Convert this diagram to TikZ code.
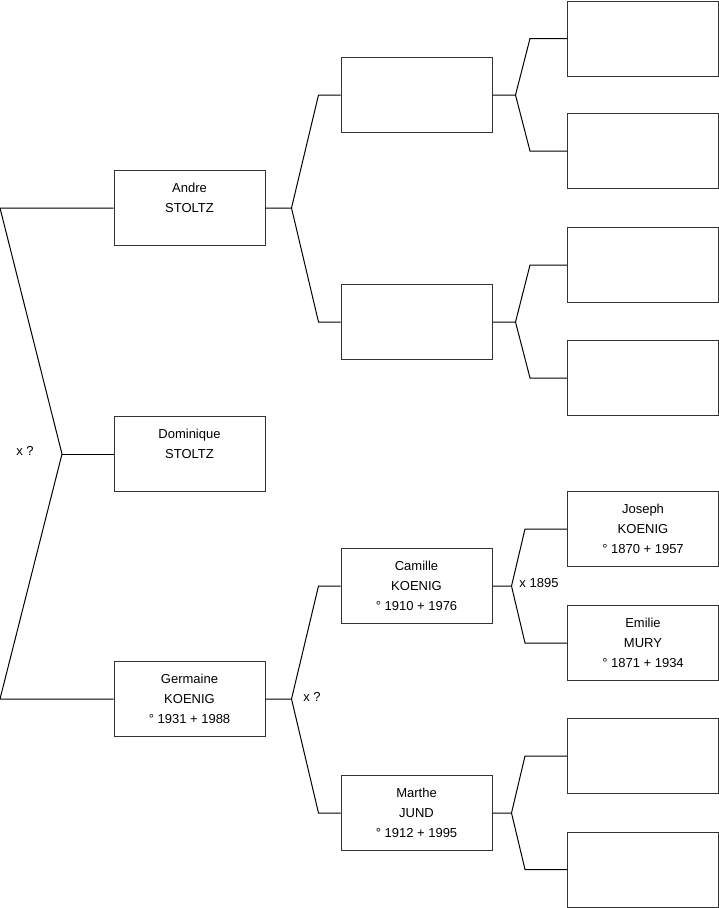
\documentclass[tikz,border=0pt]{standalone}
\usepackage{fontspec}
\setmainfont{Liberation Sans}
\usetikzlibrary{calc}

\newcommand{\who}[3]{#1\\#2\\\mbox{}#3}

\begin{document}
\begin{tikzpicture}[
    x=1pt, y=-1pt,
    font=\fontsize{13}{20}\selectfont,
    person/.style={rectangle, draw=black!80, line width=1pt,
                   minimum width=151pt, minimum height=75pt,
                   inner sep=0pt, text centered},
    link/.style={draw, line width=1pt},
    every node/.style={align=center}
  ]
  \useasboundingbox (0,0) rectangle (719,908);

  % Generation 1
  \node[person] (andre)     at (189.5,208) {\who{Andre}{STOLTZ}{}};
  \node[person] (dominique) at (189.5,454) {\who{Dominique}{STOLTZ}{}};
  \node[person] (germaine)  at (189.5,699) {\who{Germaine}{KOENIG}{° 1931 + 1988}};

  % Generation 2
  \node[person] (andreF)  at (416.5,95)  {};
  \node[person] (andreM)  at (416.5,322) {};
  \node[person] (camille) at (416.5,586) {\who{Camille}{KOENIG}{° 1910 + 1976}};
  \node[person] (marthe)  at (416.5,813) {\who{Marthe}{JUND}{° 1912 + 1995}};

  % Generation 3
  \node[person] (andreFF) at (643,38.5) {};
  \node[person] (andreFM) at (643,151)  {};
  \node[person] (andreMF) at (643,265)  {};
  \node[person] (andreMM) at (643,378)  {};
  \node[person] (joseph)  at (643,529)  {\who{Joseph}{KOENIG}{° 1870 + 1957}};
  \node[person] (emilie)  at (643,643)  {\who{Emilie}{MURY}{° 1871 + 1934}};
  \node[person] (martheF) at (643,756)  {};
  \node[person] (martheM) at (643,869.5) {};

  % Parents of Dominique
  \coordinate (rootTop) at (0,208);
  \coordinate (rootMid) at (62,454);
  \coordinate (rootBot) at (0,699);
  \draw[link] (andre.west) -- (rootTop) -- (rootMid) -- (rootBot) -- (germaine.west);
  \draw[link] (rootMid) -- (dominique.west);
  \node (rootMar) at (25,451) {x ?};

  % Parents of Andre and Germaine
  \draw[link] (andre.east) -- ++(26,0) -- ($(andreF.west)+(-22,0)$) -- (andreF.west);
  \draw[link] ($(andre.east)+(26,0)$) -- ($(andreM.west)+(-22,0)$) -- (andreM.west);
  \draw[link] (germaine.east) -- ++(26,0) -- ($(camille.west)+(-22,0)$) -- (camille.west);
  \draw[link] ($(germaine.east)+(26,0)$) -- ($(marthe.west)+(-22,0)$) -- (marthe.west);
  \node (germaineMar) at (312,697) {x ?};

  % Grandparents
  \draw[link] (andreF.east) -- ++(23,0) -- ($(andreFF.west)+(-37,0)$) -- (andreFF.west);
  \draw[link] ($(andreF.east)+(23,0)$) -- ($(andreFM.west)+(-37,0)$) -- (andreFM.west);
  \draw[link] (andreM.east) -- ++(23,0) -- ($(andreMF.west)+(-37,0)$) -- (andreMF.west);
  \draw[link] ($(andreM.east)+(23,0)$) -- ($(andreMM.west)+(-37,0)$) -- (andreMM.west);
  \draw[link] (camille.east) -- ++(19,0) -- ($(joseph.west)+(-42,0)$) -- (joseph.west);
  \draw[link] ($(camille.east)+(19,0)$) -- ($(emilie.west)+(-42,0)$) -- (emilie.west);
  \draw[link] (marthe.east) -- ++(19,0) -- ($(martheF.west)+(-42,0)$) -- (martheF.west);
  \draw[link] ($(marthe.east)+(19,0)$) -- ($(martheM.west)+(-42,0)$) -- (martheM.west);
  \node (camilleMar) at (539,583) {x 1895};

\end{tikzpicture}
\end{document}
